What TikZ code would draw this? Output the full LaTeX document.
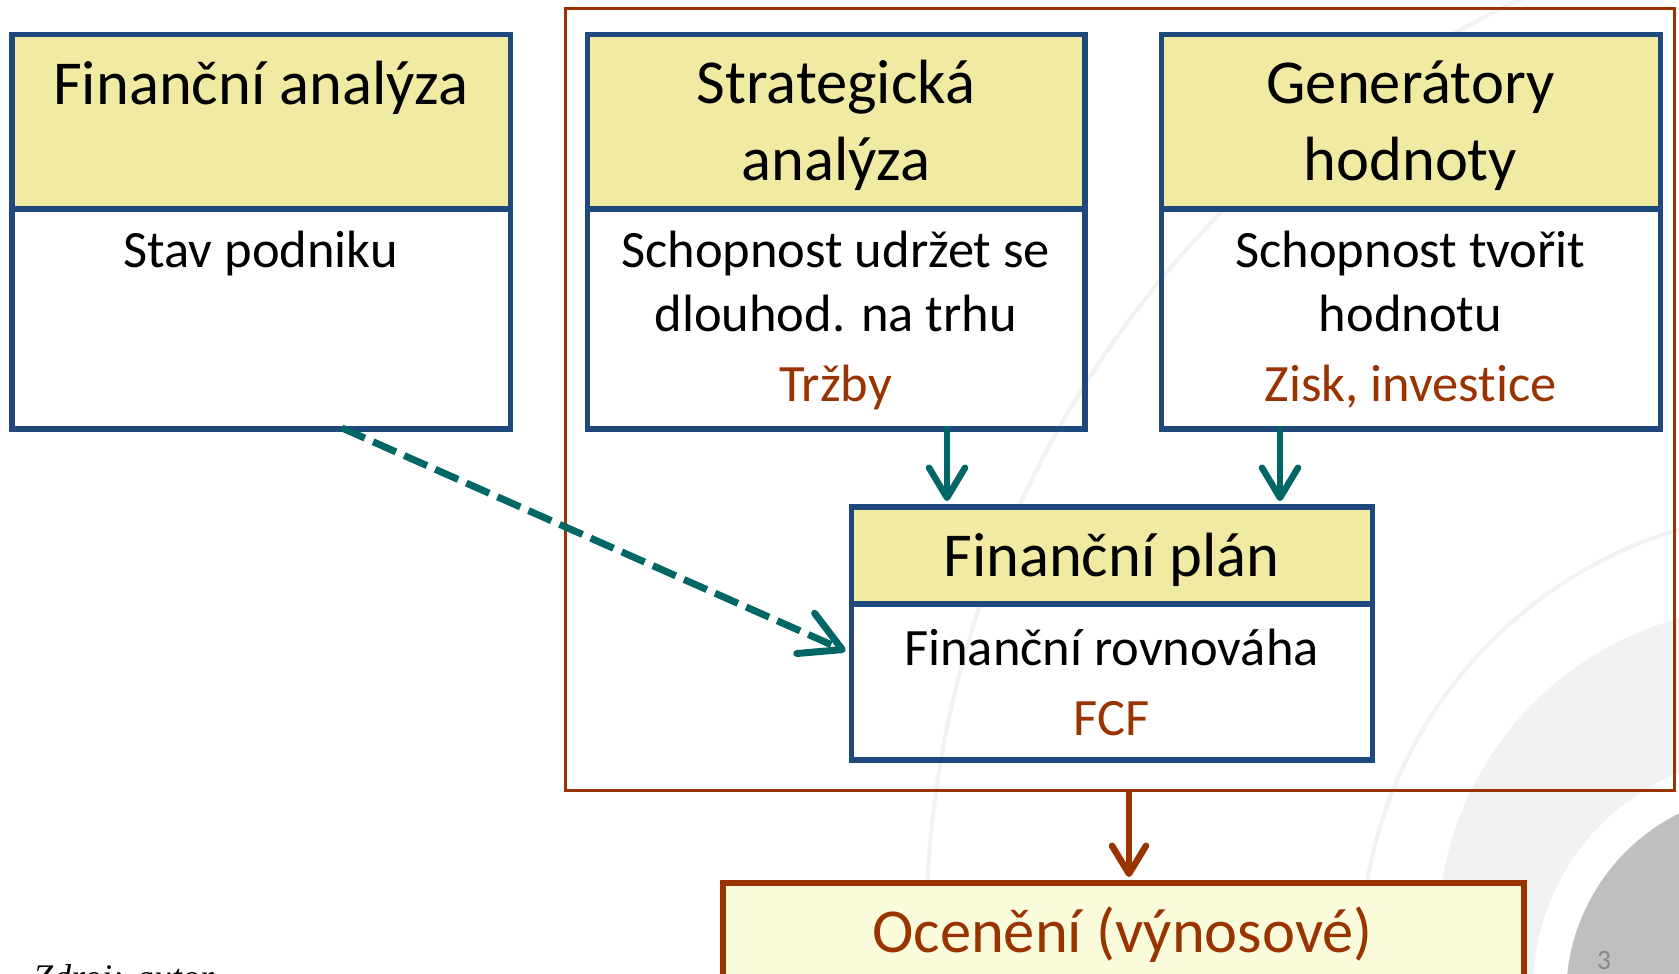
\documentclass[tikz,border=0pt]{standalone}
\usepackage{fontspec}
\setmainfont{Carlito}[RawFeature={-liga;-clig;-dlig;-calt}]
\newfontfamily\notefont{Liberation Serif}
\usetikzlibrary{arrows.meta}

\definecolor{boxblue}{RGB}{31,73,125}
\definecolor{hdrfill}{RGB}{240,234,162}
\definecolor{rust}{RGB}{153,51,0}
\definecolor{tealc}{RGB}{0,102,102}
\definecolor{ocfill}{RGB}{250,252,219}
\definecolor{bgpale}{RGB}{242,242,242}
\definecolor{bgdark}{RGB}{191,191,191}
\definecolor{pagegrey}{RGB}{137,137,137}

\begin{document}
\begin{tikzpicture}[x=1pt,y=-1pt,
  hdrbox/.style={draw=boxblue, line width=5.5pt, fill=hdrfill, inner sep=0pt, anchor=north west},
  bodybox/.style={draw=boxblue, line width=5.5pt, inner sep=0pt, anchor=north west},
  hdrtxt/.style={anchor=base, inner sep=0pt, font=\fontsize{62.5}{75}\selectfont},
  bodytxt/.style={anchor=base, inner sep=0pt, font=\fontsize{52.5}{63}\selectfont},
  keytxt/.style={bodytxt, text=rust},
  tealarrow/.style={draw=tealc, line width=6.5pt, -{Straight Barb[length=30pt,width=36pt,round]}},
  dasharrow/.style={draw=tealc, line width=7pt, dash pattern=on 25pt off 9pt, -{Straight Barb[length=40pt,width=44pt,round]}},
  rustarrow/.style={draw=rust, line width=6.5pt, -{Straight Barb[length=28pt,width=34pt,round]}}
]
\useasboundingbox (0,0) rectangle (1679,974);
\clip (0,0) rectangle (1679,974);
\fill[white] (0,0) rectangle (1679,974);

% background ornament in the lower right corner
\draw[bgpale, line width=4pt] (1961,936) circle[radius=1035pt];
\draw[bgpale, line width=4pt] (1806,956) circle[radius=445pt];
\fill[bgpale] (1765,934) circle[radius=327pt];
\fill[white] (1768,990) circle[radius=235pt];
\fill[bgdark] (1770,996) circle[radius=204pt];

% frame around the planning part
\node[draw=rust, line width=3pt, inner sep=0pt, anchor=north west,
      minimum width=1109pt, minimum height=781.5pt] (frame) at (564,7.5) {};

% Finanční analýza
\node[bodybox, minimum width=498.5pt, minimum height=220pt] (faB) at (9,206) {};
\node[hdrbox, minimum width=498.5pt, minimum height=174pt] (faH) at (9,32) {};
\node[hdrtxt] (faT) at (260.7,104) {Finanční analýza};
\node[bodytxt] (faL1) at (260.7,267) {Stav podniku};

% Strategická analýza
\node[bodybox, minimum width=497.5pt, minimum height=220pt] (saB) at (584.5,206) {};
\node[hdrbox, minimum width=497.5pt, minimum height=174pt] (saH) at (584.5,32) {};
\node[hdrtxt] (saT1) at (835.7,103) {Strategická};
\node[hdrtxt] (saT2) at (835.7,180) {analýza};
\node[bodytxt] (saL1) at (835.7,267) {Schopnost udržet se};
\node[bodytxt] (saL2) at (835.7,331) {dlouhod. na trhu};
\node[keytxt] (saK) at (835.7,401) {Tržby};

% Generátory hodnoty
\node[bodybox, minimum width=499pt, minimum height=220pt] (ghB) at (1158.5,206) {};
\node[hdrbox, minimum width=499pt, minimum height=174pt] (ghH) at (1158.5,32) {};
\node[hdrtxt] (ghT1) at (1410.5,103) {Generátory};
\node[hdrtxt] (ghT2) at (1410.5,180) {hodnoty};
\node[bodytxt] (ghL1) at (1410.5,267) {Schopnost tvořit};
\node[bodytxt] (ghL2) at (1410.5,331) {hodnotu};
\node[keytxt] (ghK) at (1410.5,401) {Zisk, investice};

% Finanční plán
\node[bodybox, minimum width=521pt, minimum height=156pt] (fpB) at (848.5,601) {};
\node[hdrbox, minimum width=521pt, minimum height=97pt] (fpH) at (848.5,504) {};
\node[hdrtxt] (fpT) at (1111.5,576) {Finanční plán};
\node[bodytxt] (fpL1) at (1111.5,665) {Finanční rovnováha};
\node[keytxt] (fpK) at (1111.5,735) {FCF};

% Ocenění
\node[draw=rust, line width=5.5pt, fill=ocfill, inner sep=0pt, anchor=north west,
      minimum width=801pt, minimum height=200pt] (oc) at (720,880) {};
\node[hdrtxt, text=rust] (ocT) at (1122.5,952) {Ocenění (výnosové)};

% connectors
\coordinate (s1) at (947,426);
\coordinate (s2) at (1280,426);
\draw[tealarrow] (s1) -- ([yshift=3pt]s1 |- fpH.north);
\draw[tealarrow] (s2) -- ([yshift=3pt]s2 |- fpH.north);

\coordinate (d0) at (342,428);
\coordinate (d1y) at (0,651);
\draw[dasharrow] (d0) -- ([xshift=-3pt]fpB.west |- d1y);

\coordinate (r0) at (1129,789);
\draw[rustarrow] (r0) -- ([yshift=3pt]r0 |- oc.north);

% page number and source note
\node[anchor=base, inner sep=0pt, font=\fontsize{28}{30}\selectfont, text=pagegrey] (pg) at (1604,969) {3};
\node[anchor=base west, inner sep=0pt, font=\notefont\itshape\fontsize{36}{40}\selectfont] (src) at (33,989) {Zdroj: autor};
\end{tikzpicture}
\end{document}
